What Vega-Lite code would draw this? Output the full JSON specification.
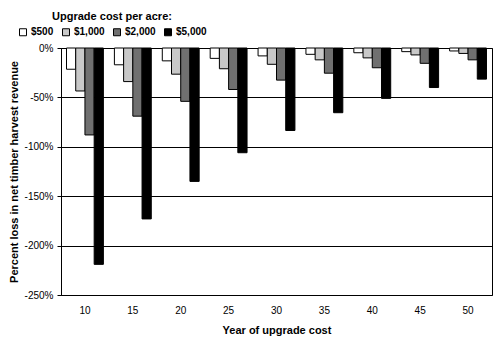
{
  "$schema": "https://vega.github.io/schema/vega-lite/v6.json",
  "width": 431,
  "height": 247,
  "autosize": {"type": "none"},
  "padding": {"left": 61, "top": 48, "right": 12, "bottom": 51},
  "background": "white",
  "config": {
    "font": "Liberation Sans",
    "view": {"stroke": "black", "strokeWidth": 1},
    "axis": {"labelFont": "Liberation Sans", "titleFont": "Liberation Sans", "labelColor": "black", "titleColor": "black", "domainColor": "black", "tickColor": "black"}
  },
  "data": {
    "values": [
      {"year": 10, "cost": "$500", "loss": -21.5},
      {"year": 10, "cost": "$1,000", "loss": -43.5},
      {"year": 10, "cost": "$2,000", "loss": -88},
      {"year": 10, "cost": "$5,000", "loss": -219},
      {"year": 15, "cost": "$500", "loss": -17},
      {"year": 15, "cost": "$1,000", "loss": -34},
      {"year": 15, "cost": "$2,000", "loss": -69},
      {"year": 15, "cost": "$5,000", "loss": -173},
      {"year": 20, "cost": "$500", "loss": -13},
      {"year": 20, "cost": "$1,000", "loss": -26.5},
      {"year": 20, "cost": "$2,000", "loss": -54},
      {"year": 20, "cost": "$5,000", "loss": -135},
      {"year": 25, "cost": "$500", "loss": -10.5},
      {"year": 25, "cost": "$1,000", "loss": -21},
      {"year": 25, "cost": "$2,000", "loss": -42},
      {"year": 25, "cost": "$5,000", "loss": -106},
      {"year": 30, "cost": "$500", "loss": -8},
      {"year": 30, "cost": "$1,000", "loss": -16.5},
      {"year": 30, "cost": "$2,000", "loss": -32.5},
      {"year": 30, "cost": "$5,000", "loss": -83.5},
      {"year": 35, "cost": "$500", "loss": -6.4},
      {"year": 35, "cost": "$1,000", "loss": -12},
      {"year": 35, "cost": "$2,000", "loss": -25.5},
      {"year": 35, "cost": "$5,000", "loss": -65.5},
      {"year": 40, "cost": "$500", "loss": -4.8},
      {"year": 40, "cost": "$1,000", "loss": -10},
      {"year": 40, "cost": "$2,000", "loss": -20},
      {"year": 40, "cost": "$5,000", "loss": -51},
      {"year": 45, "cost": "$500", "loss": -3.7},
      {"year": 45, "cost": "$1,000", "loss": -7},
      {"year": 45, "cost": "$2,000", "loss": -15.5},
      {"year": 45, "cost": "$5,000", "loss": -40},
      {"year": 50, "cost": "$500", "loss": -3},
      {"year": 50, "cost": "$1,000", "loss": -5.5},
      {"year": 50, "cost": "$2,000", "loss": -12},
      {"year": 50, "cost": "$5,000", "loss": -31.5}
    ]
  },
  "mark": {"type": "bar", "stroke": "black", "strokeWidth": 1},
  "encoding": {
    "x": {
      "field": "year", "type": "ordinal",
      "scale": {"paddingInner": 0.23, "paddingOuter": 0.115},
      "axis": {"title": "Year of upgrade cost", "labelAngle": 0, "ticks": false, "domain": false, "labelFontSize": 10, "labelPadding": 10, "titleFontSize": 11, "titleFontWeight": "bold", "titlePadding": 9}
    },
    "xOffset": {"field": "cost", "sort": ["$500", "$1,000", "$2,000", "$5,000"], "scale": {"paddingInner": 0}},
    "y": {
      "field": "loss", "type": "quantitative",
      "scale": {"domain": [-250, 0], "nice": false},
      "axis": {"title": "Percent loss in net timber harvest revenue", "values": [0, -50, -100, -150, -200, -250], "labelExpr": "datum.value + '%'", "grid": true, "gridColor": "black", "gridOpacity": 1, "tickSize": 4, "labelFontSize": 10, "labelPadding": 4, "titleFontSize": 11, "titleFontWeight": "bold", "titlePadding": 5}
    },
    "fill": {
      "field": "cost", "type": "nominal",
      "sort": ["$500", "$1,000", "$2,000", "$5,000"],
      "scale": {"domain": ["$500", "$1,000", "$2,000", "$5,000"], "range": ["#ffffff", "#c8c8c8", "#707070", "#000000"]},
      "legend": {
        "title": "Upgrade cost per acre:",
        "orient": "none", "legendX": -43, "legendY": -37,
        "direction": "horizontal",
        "titleAnchor": "middle", "titleFontSize": 11, "titleFontWeight": "bold", "titleColor": "black", "titlePadding": 5,
        "labelFontSize": 10, "labelFontWeight": "bold", "labelColor": "black",
        "symbolType": "square", "symbolSize": 49, "symbolStrokeColor": "black", "symbolStrokeWidth": 1,
        "columnPadding": 6, "labelOffset": 3
      }
    }
  }
}
